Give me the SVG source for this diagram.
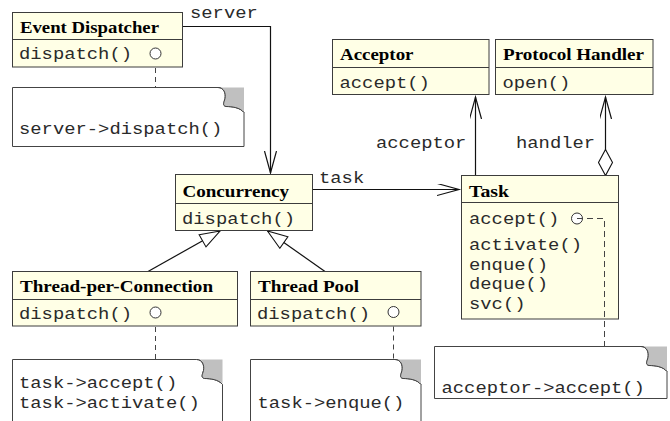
<svg xmlns="http://www.w3.org/2000/svg" width="670" height="421" viewBox="0 0 670 421">
<style>
.box{fill:#ffffe6;stroke:#3c3c3c;stroke-width:1}
.div{stroke:#3c3c3c;stroke-width:1}
.t{font-family:"Liberation Serif","Times New Roman",serif;font-weight:bold;font-size:16px;fill:#000}
.m{font-family:"Liberation Mono","Courier New",monospace;font-size:16px;fill:#2a2a2a}
.note{fill:#fff;stroke:#444;stroke-width:1}
.fold{fill:#c0c0c0;stroke:none}
.curl{fill:none;stroke:#444;stroke-width:1}
.ln{fill:none;stroke:#111;stroke-width:1.2}
.dash{fill:none;stroke:#444;stroke-width:1;stroke-dasharray:5,4}
.pin{fill:#fff;stroke:#333;stroke-width:1}
</style>
<defs>
<marker id="open" markerUnits="userSpaceOnUse" markerWidth="26" markerHeight="14" refX="22" refY="6" orient="auto">
<path d="M0,0 L22,6 L0,12" fill="none" stroke="#111" stroke-width="1.2"/>
</marker>
<marker id="gen" markerUnits="userSpaceOnUse" markerWidth="24" markerHeight="18" refX="21" refY="8" orient="auto">
<path d="M1,1 L21,8 L1,15 Z" fill="#fff" stroke="#111" stroke-width="1.1"/>
</marker>
<marker id="dia" markerUnits="userSpaceOnUse" markerWidth="28" markerHeight="16" refX="1" refY="7.5" orient="auto">
<path d="M1,7.5 L14,0.5 L27,7.5 L14,14.5 Z" fill="#fff" stroke="#111" stroke-width="1.1"/>
</marker>
</defs>

<g id="connectors">
<path class="ln" d="M182.5,26.5 H270.5 V173" marker-end="url(#open)"/>
<path class="ln" d="M312.5,189.5 H459" marker-end="url(#open)"/>
<path class="ln" d="M475.5,175.5 V97" marker-end="url(#open)"/>
<path class="ln" d="M605.5,175.5 V97" marker-start="url(#dia)" marker-end="url(#open)"/>
<path class="ln" d="M148,271.5 L220,231" marker-end="url(#gen)"/>
<path class="ln" d="M325,271.5 L267.5,231" marker-end="url(#gen)"/>
<path class="dash" d="M155.5,59 V87.5"/>
<path class="dash" d="M155.5,318 V359.5"/>
<path class="dash" d="M393.5,317.5 V359.5"/>
<text class="m" x="190" y="18" textLength="67.8" lengthAdjust="spacingAndGlyphs">server</text>
<text class="m" x="319" y="183" textLength="45.2" lengthAdjust="spacingAndGlyphs">task</text>
<text class="m" x="376" y="148" textLength="90.4" lengthAdjust="spacingAndGlyphs">acceptor</text>
<text class="m" x="516" y="148" textLength="79.1" lengthAdjust="spacingAndGlyphs">handler</text>
</g>

<g id="event-dispatcher">
<rect class="box" x="12.5" y="12.5" width="170" height="54.5"/>
<line class="div" x1="12.5" y1="39.5" x2="182.5" y2="39.5"/>
<text class="t" x="20" y="33" textLength="139" lengthAdjust="spacingAndGlyphs">Event Dispatcher</text>
<text class="m" x="19" y="59" textLength="113" lengthAdjust="spacingAndGlyphs">dispatch()</text>
<circle class="pin" cx="155.5" cy="53.5" r="5.5"/>
</g>

<g id="note-server">
<path class="note" d="M12.5,146.5 V87.5 H218 C224,87.5 226,93.5 225,98.5 C224,102.5 222,105.5 226,106.5 C232,106.5 240,107.5 244,112.5 V146.5 Z"/>
<path class="fold" d="M221,87.5 H244 V111.5 C240,107.5 232,106.5 226,106.5 C222,105.5 224,102.5 225,98.5 C226,93.5 224,88.5 221,87.5 Z"/>
<path class="curl" d="M218,87.5 C224,87.5 226,93.5 225,98.5 C224,102.5 222,105.5 226,106.5 C232,106.5 240,107.5 244,112.5"/>
<text class="m" x="19" y="134" textLength="203.4" lengthAdjust="spacingAndGlyphs">server-&gt;dispatch()</text>
</g>

<g id="concurrency">
<rect class="box" x="175.5" y="174.5" width="137" height="56"/>
<line class="div" x1="175.5" y1="203.5" x2="312.5" y2="203.5"/>
<text class="t" x="182.5" y="197" textLength="106.5" lengthAdjust="spacingAndGlyphs">Concurrency</text>
<text class="m" x="182" y="224" textLength="113" lengthAdjust="spacingAndGlyphs">dispatch()</text>
</g>

<g id="thread-per-connection">
<rect class="box" x="12.5" y="271.5" width="225" height="54.5"/>
<line class="div" x1="12.5" y1="299.5" x2="237.5" y2="299.5"/>
<text class="t" x="20" y="292" textLength="193" lengthAdjust="spacingAndGlyphs">Thread-per-Connection</text>
<text class="m" x="19" y="319" textLength="113" lengthAdjust="spacingAndGlyphs">dispatch()</text>
<circle class="pin" cx="155.5" cy="312.5" r="5.5"/>
</g>

<g id="note-tpc">
<path class="note" d="M12.5,425 V359.5 H196.5 C202.5,359.5 204.5,365.5 203.5,370.5 C202.5,374.5 200.5,377.5 204.5,378.5 C210.5,378.5 218.5,379.5 222.5,384.5 V425 Z"/>
<path class="fold" d="M199.5,359.5 H222.5 V383.5 C218.5,379.5 210.5,378.5 204.5,378.5 C200.5,377.5 202.5,374.5 203.5,370.5 C204.5,365.5 202.5,360.5 199.5,359.5 Z"/>
<path class="curl" d="M196.5,359.5 C202.5,359.5 204.5,365.5 203.5,370.5 C202.5,374.5 200.5,377.5 204.5,378.5 C210.5,378.5 218.5,379.5 222.5,384.5"/>
<text class="m" x="19" y="388" textLength="158.2" lengthAdjust="spacingAndGlyphs">task-&gt;accept()</text>
<text class="m" x="19" y="408" textLength="180.8" lengthAdjust="spacingAndGlyphs">task-&gt;activate()</text>
</g>

<g id="thread-pool">
<rect class="box" x="250.5" y="271.5" width="170.5" height="54.5"/>
<line class="div" x1="250.5" y1="299.5" x2="421" y2="299.5"/>
<text class="t" x="258" y="292" textLength="101" lengthAdjust="spacingAndGlyphs">Thread Pool</text>
<text class="m" x="257" y="319" textLength="113" lengthAdjust="spacingAndGlyphs">dispatch()</text>
<circle class="pin" cx="393.5" cy="312" r="5.5"/>
</g>

<g id="note-pool">
<path class="note" d="M250.5,425 V359.5 H395 C401,359.5 403,365.5 402,370.5 C401,374.5 399,377.5 403,378.5 C409,378.5 417,379.5 421,384.5 V425 Z"/>
<path class="fold" d="M398,359.5 H421 V383.5 C417,379.5 409,378.5 403,378.5 C399,377.5 401,374.5 402,370.5 C403,365.5 401,360.5 398,359.5 Z"/>
<path class="curl" d="M395,359.5 C401,359.5 403,365.5 402,370.5 C401,374.5 399,377.5 403,378.5 C409,378.5 417,379.5 421,384.5"/>
<text class="m" x="257.5" y="408" textLength="146.9" lengthAdjust="spacingAndGlyphs">task-&gt;enque()</text>
</g>

<g id="acceptor">
<rect class="box" x="332.5" y="39.5" width="156.5" height="55"/>
<line class="div" x1="332.5" y1="67.5" x2="489" y2="67.5"/>
<text class="t" x="340" y="60" textLength="73.5" lengthAdjust="spacingAndGlyphs">Acceptor</text>
<text class="m" x="339.5" y="88" textLength="90.4" lengthAdjust="spacingAndGlyphs">accept()</text>
</g>

<g id="protocol-handler">
<rect class="box" x="495.5" y="39.5" width="157.5" height="55"/>
<line class="div" x1="495.5" y1="67.5" x2="653" y2="67.5"/>
<text class="t" x="503" y="60" textLength="141" lengthAdjust="spacingAndGlyphs">Protocol Handler</text>
<text class="m" x="502.5" y="88" textLength="67.8" lengthAdjust="spacingAndGlyphs">open()</text>
</g>

<g id="task">
<rect class="box" x="461.5" y="175.5" width="157" height="143.5"/>
<line class="div" x1="461.5" y1="202.5" x2="618.5" y2="202.5"/>
<text class="t" x="469" y="197" textLength="40" lengthAdjust="spacingAndGlyphs">Task</text>
<text class="m" x="469" y="224" textLength="90.4" lengthAdjust="spacingAndGlyphs">accept()</text>
<text class="m" x="469" y="250" textLength="113" lengthAdjust="spacingAndGlyphs">activate()</text>
<text class="m" x="469" y="269.5" textLength="79.1" lengthAdjust="spacingAndGlyphs">enque()</text>
<text class="m" x="469" y="289" textLength="79.1" lengthAdjust="spacingAndGlyphs">deque()</text>
<text class="m" x="469" y="308.5" textLength="56.5" lengthAdjust="spacingAndGlyphs">svc()</text>
<circle class="pin" cx="577" cy="218.5" r="5.5"/>
<path class="dash" d="M577,218.5 H604.5 V346.5" style="stroke-dasharray:6,4"/>
</g>

<g id="note-task">
<path class="note" d="M434.5,398.5 V346.5 H641 C647,346.5 649,352.5 648,357.5 C647,361.5 645,364.5 649,365.5 C655,365.5 663,366.5 667,371.5 V398.5 Z"/>
<path class="fold" d="M644,346.5 H667 V370.5 C663,366.5 655,365.5 649,365.5 C645,364.5 647,361.5 648,357.5 C649,352.5 647,347.5 644,346.5 Z"/>
<path class="curl" d="M641,346.5 C647,346.5 649,352.5 648,357.5 C647,361.5 645,364.5 649,365.5 C655,365.5 663,366.5 667,371.5"/>
<text class="m" x="441.5" y="393" textLength="203.4" lengthAdjust="spacingAndGlyphs">acceptor-&gt;accept()</text>
</g>
</svg>
